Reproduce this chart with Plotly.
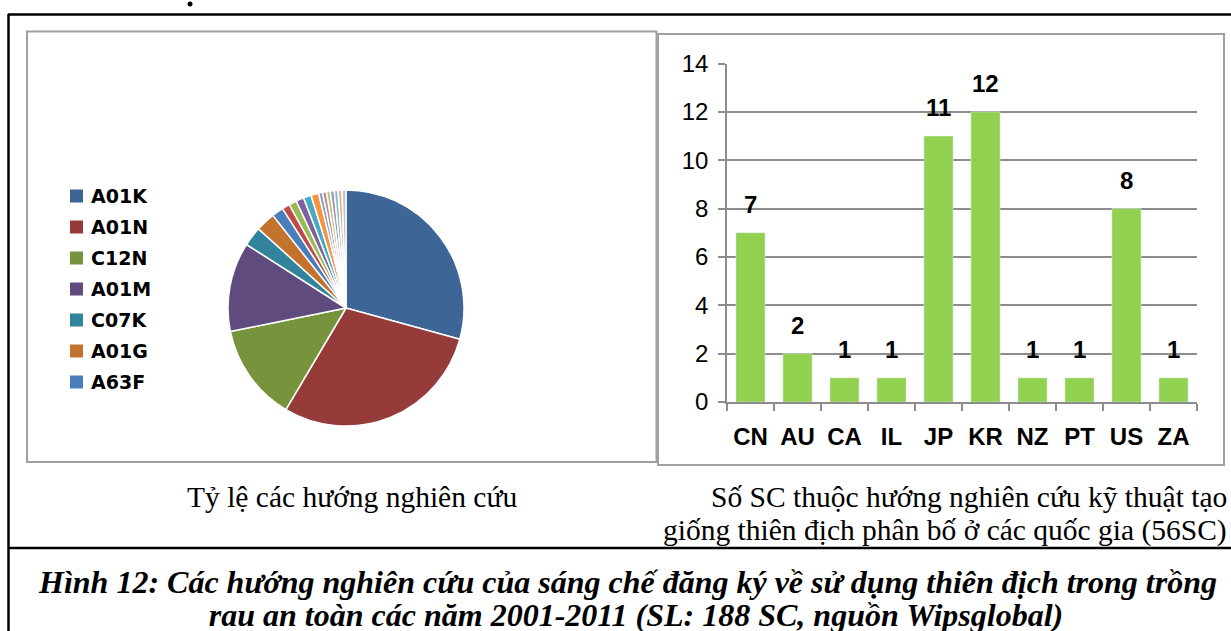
import plotly.graph_objects as go

W, H = 1231, 631

# pie: research directions (number of SC per IPC class)
pie_labels = ["A01K", "A01N", "C12N", "A01M", "C07K", "A01G", "A63F",
              "Khác 1", "Khác 2", "Khác 3", "Khác 4", "Khác 5", "Khác 6",
              "Khác 7", "Khác 8", "Khác 9", "Khác 10", "Khác 11", "Khác 12"]
pie_values = [55, 55, 25, 23, 5, 5, 3, 2, 2, 2, 2, 2, 1, 1, 1, 1, 1, 1, 1]
pie_colors = ["#3D6596", "#953C3B", "#77933C", "#5F4B7D", "#31849B", "#C4732F", "#4A7EBB",
              "#BE4B48", "#98B954", "#7D60A0", "#46AAC5", "#F69240", "#7C9FD2",
              "#D08583", "#B3CC87", "#A28EBF", "#7CC4D8", "#F9B07A", "#AFC3E3"]
legend_labels = pie_labels[:7]

# bars: SC by country
countries = ["CN", "AU", "CA", "IL", "JP", "KR", "NZ", "PT", "US", "ZA"]
counts = [7, 2, 1, 1, 11, 12, 1, 1, 8, 1]
y_ticks = [0, 2, 4, 6, 8, 10, 12, 14]

caption_left = "Tỷ lệ các hướng nghiên cứu"
caption_right = ["Số SC thuộc hướng nghiên cứu kỹ thuật tạo",
                 "giống thiên địch phân bố ở các quốc gia (56SC)"]
figure_title = ["Hình 12: Các hướng nghiên cứu của sáng chế đăng ký về sử dụng thiên địch trong trồng",
                "rau an toàn các năm 2001-2011 (SL: 188 SC, nguồn Wipsglobal)"]


def px(x):
    return x / W


def py(y):
    return 1 - y / H


fig = go.Figure()

cx, cy, r = 346, 308, 118
fig.add_trace(go.Pie(
    labels=pie_labels, values=pie_values,
    marker=dict(colors=pie_colors, line=dict(color="white", width=1.5)),
    sort=False, direction="clockwise", rotation=0,
    textinfo="none", hoverinfo="label+value", showlegend=False,
    domain=dict(x=[px(cx - r), px(cx + r)], y=[py(cy + r), py(cy - r)]),
))

fig.add_trace(go.Bar(
    x=countries, y=counts, marker_color="#92D050", width=0.62,
    showlegend=False, hoverinfo="x+y",
))

# figure title: text trace on a full-page overlay axis so it can run off the bottom edge
fig.add_trace(go.Scatter(
    x=[628, 636], y=[585, 618], xaxis="x2", yaxis="y2",
    mode="text", text=figure_title, textposition="middle center",
    cliponaxis=False, hoverinfo="skip", showlegend=False,
    textfont=dict(family="Liberation Serif", size=32, color="black",
                  weight="bold", style="italic"),
))

grey = "#8C8C8C"
fig.update_layout(
    width=W, height=H, margin=dict(l=0, r=0, t=0, b=0, autoexpand=False),
    paper_bgcolor="white", plot_bgcolor="rgba(0,0,0,0)",
    xaxis=dict(domain=[px(727), px(1197)], type="category", showline=True,
               linecolor=grey, linewidth=1.5, ticks="outside", tickson="boundaries",
               ticklen=7, tickcolor=grey, tickwidth=1.5, showgrid=False,
               ticklabelstandoff=12, automargin=False,
               tickfont=dict(family="Liberation Sans", size=24, color="black", weight="bold")),
    yaxis=dict(domain=[py(402), py(63.5)], range=[0, 14], tickvals=y_ticks,
               showline=True, linecolor=grey, linewidth=1.5, ticks="outside",
               ticklen=7, tickcolor=grey, tickwidth=1.5, showgrid=True,
               gridcolor=grey, gridwidth=1.5, zeroline=False, ticklabelstandoff=5,
               automargin=False,
               tickfont=dict(family="Liberation Sans", size=24, color="black")),
    xaxis2=dict(domain=[0, 1], range=[0, W], visible=False, fixedrange=True,
                anchor="y2", automargin=False),
    yaxis2=dict(domain=[0, 1], range=[H, 0], visible=False, fixedrange=True,
                anchor="x2", automargin=False),
)

# value labels over bars
for c, v in zip(countries, counts):
    fig.add_annotation(x=c, y=v, xref="x", yref="y", text=str(v), showarrow=False,
                       xanchor="center", yanchor="bottom", yshift=13,
                       font=dict(family="Liberation Sans", size=24, color="black", weight="bold"))

# pie legend (first seven classes only)
for i, (lab, col) in enumerate(zip(legend_labels, pie_colors)):
    yc = 196 + 31 * i
    fig.add_shape(type="rect", xref="paper", yref="paper",
                  x0=px(70), x1=px(83), y0=py(yc + 6.5), y1=py(yc - 6.5),
                  fillcolor=col, line=dict(width=0))
    fig.add_annotation(x=px(89), y=py(yc), xref="paper", yref="paper", text=lab,
                       showarrow=False, xanchor="left", yanchor="middle",
                       font=dict(family="DejaVu Sans", size=19, color="black", weight="bold"))

# frames
fig.add_shape(type="rect", xref="paper", yref="paper", x0=px(27), x1=px(656.5),
              y0=py(462), y1=py(31.5), line=dict(color="#A0A0A0", width=2))
fig.add_shape(type="rect", xref="paper", yref="paper", x0=px(658), x1=px(1224),
              y0=py(465), y1=py(34), line=dict(color="#A0A0A0", width=2))
for x0, y0, x1, y1 in [(8, 14.5, 1231, 14.5), (8.5, 14, 8.5, 631), (8, 548, 1231, 548)]:
    fig.add_shape(type="line", xref="paper", yref="paper", x0=px(x0), y0=py(y0),
                  x1=px(x1), y1=py(y1), line=dict(color="black", width=2.5))
fig.add_shape(type="circle", xref="paper", yref="paper", x0=px(187.5), x1=px(192.5),
              y0=py(6.5), y1=py(1.5), fillcolor="black", line=dict(width=0))

# captions
serif = "Liberation Serif"
fig.add_annotation(x=px(352), y=py(497), xref="paper", yref="paper", text=caption_left,
                   showarrow=False, xanchor="center", yanchor="middle",
                   font=dict(family=serif, size=29.5, color="black"))
for i, line in enumerate(caption_right):
    fig.add_annotation(x=px(1229), y=py(497 + 33 * i), xref="paper", yref="paper", text=line,
                       showarrow=False, xanchor="right", yanchor="middle",
                       font=dict(family=serif, size=29.5, color="black"))

fig.write_html("out.html", config={"displayModeBar": False},
               post_script="document.body.style.margin='0';")
